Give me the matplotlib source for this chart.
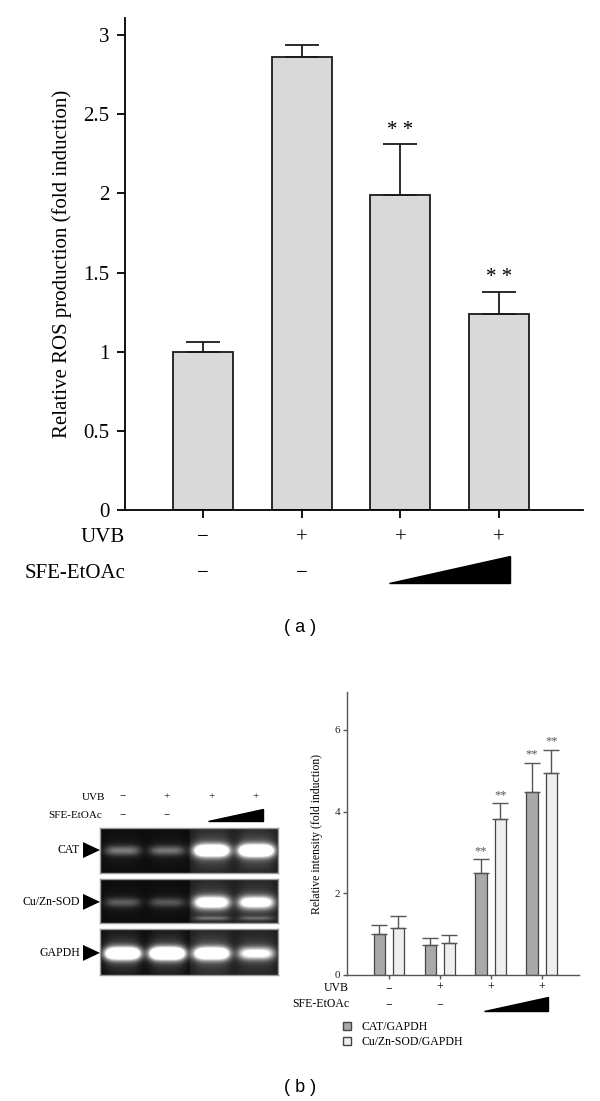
import numpy as np
import matplotlib
matplotlib.use("Agg")
import matplotlib.pyplot as plt
from matplotlib.patches import Polygon, Patch
from matplotlib.transforms import blended_transform_factory

plt.rcParams["font.family"] = ["Liberation Serif", "DejaVu Serif"]

# (a) ROS production
ros_mean = [1.00, 2.86, 1.99, 1.24]
ros_err = [0.06, 0.08, 0.32, 0.14]
ros_sig = ["", "", "* *", "* *"]
uvb_row = ["−", "+", "+", "+"]
sfe_row = ["−", "−", "", ""]   # last two: wedge (increasing dose)

# (b) RT-PCR densitometry
cat_mean = [1.01, 0.74, 2.50, 4.49]
cat_err = [0.21, 0.17, 0.33, 0.71]
sod_mean = [1.16, 0.79, 3.83, 4.95]
sod_err = [0.28, 0.20, 0.37, 0.57]
cat_sig = ["", "", "**", "**"]
sod_sig = ["", "", "**", "**"]
legend_labels = ["CAT/GAPDH", "Cu/Zn-SOD/GAPDH"]

# gel bands (relative brightness per lane)
gel_rows = ["CAT", "Cu/Zn-SOD", "GAPDH"]
gel_bands = [[0.38, 0.36, 1.5, 1.6],
             [0.28, 0.26, 1.2, 1.1],
             [1.7, 1.8, 1.5, 0.95]]
gel_lower = [[0, 0, 0, 0],
             [0, 0, 0.25, 0.22],
             [0, 0, 0, 0]]

W, H = 600, 1101


def fx(p):
    return p / W


def fy(p):
    return 1 - p / H


fig = plt.figure(figsize=(6, 11.01), dpi=100)

# ---------------- (a) ----------------
ax = fig.add_axes([fx(125), fy(510), 458 / W, 492 / H])
x = np.arange(len(ros_mean))
ax.bar(x, ros_mean, width=0.61, color="#d9d9d9", edgecolor="#1a1a1a", linewidth=1.3, zorder=2)
ax.errorbar(x, ros_mean, yerr=[np.zeros(len(x)), ros_err], fmt="none", ecolor="#1a1a1a",
            elinewidth=1.3, capthick=1.3, capsize=12, zorder=3)
for xi, m, e, s in zip(x, ros_mean, ros_err, ros_sig):
    if s:
        ax.text(xi, m + e + 0.03, s, ha="center", va="bottom", fontsize=15)
ax.set_xlim(-0.79, 3.85)
ax.set_ylim(0, 3.108)
yt = [0, 0.5, 1, 1.5, 2, 2.5, 3]
ax.set_yticks(yt)
ax.set_yticklabels([f"{v:g}" for v in yt])
ax.set_xticks(x)
ax.set_xticklabels([])
for sp in ["top", "right"]:
    ax.spines[sp].set_visible(False)
for sp in ["left", "bottom"]:
    ax.spines[sp].set_linewidth(1.3)
ax.tick_params(direction="out", length=6, width=1.3, labelsize=15, pad=5)
ax.set_ylabel("Relative ROS production (fold induction)", fontsize=15, labelpad=8)

tr = blended_transform_factory(ax.transData, fig.transFigure)
fig.text(fx(125), fy(538), "UVB", ha="right", va="center", fontsize=15)
fig.text(fx(125), fy(573), "SFE-EtOAc", ha="right", va="center", fontsize=15)
for xi, u, s in zip(x, uvb_row, sfe_row):
    ax.text(xi, fy(538), u, transform=tr, ha="center", va="center", fontsize=15)
    if s:
        ax.text(xi, fy(573), s, transform=tr, ha="center", va="center", fontsize=15)
ax.add_patch(Polygon([(x[2] - 0.12, fy(583)), (x[3] + 0.11, fy(583)), (x[3] + 0.11, fy(556))],
                     closed=True, transform=tr, facecolor="black", edgecolor="black", clip_on=False))
fig.text(0.5, fy(628), "( a )", ha="center", va="center", fontsize=13, family="Liberation Sans")

# ---------------- (b) gel ----------------
panels = [(828, 873, 0.49), (879, 923, 0.52), (929, 975, 0.52)]
gel_axes = []
for i, (top, bot, yc) in enumerate(panels):
    gax = fig.add_axes([fx(100), fy(bot), 178 / W, (bot - top) / H])
    nh, nw = bot - top, 178
    yy, xx = np.mgrid[0:nh, 0:nw]
    img = np.where(xx > nw * 0.5, 0.12, 0.05).astype(float)
    lane_c = (np.arange(4) + 0.5) * nw / 4
    for k in range(4):
        amp = gel_bands[i][k]
        hprof = np.exp(-((xx - lane_c[k]) / 18.0) ** 4)
        sy = 4.0 + 2.0 * min(amp, 1.0)
        img += amp * hprof * np.exp(-((yy - yc * nh) / sy) ** 2)
        img += 0.15 * amp * hprof * np.exp(-((yy - yc * nh) / (sy * 3)) ** 2)
        if gel_lower[i][k]:
            img += gel_lower[i][k] * hprof * np.exp(-((yy - 0.88 * nh) / 2.0) ** 2)
    gax.imshow(np.clip(img, 0, 1), cmap="gray", vmin=0, vmax=1, extent=(0, 4, 1, 0),
               aspect="auto", interpolation="bilinear")
    gax.set_xticks([])
    gax.set_yticks([])
    for sp in gax.spines.values():
        sp.set_color("#9a9a9a")
        sp.set_linewidth(1)
    yc_px = top + yc * (bot - top)
    fig.text(fx(80), fy(yc_px), gel_rows[i], ha="right", va="center", fontsize=8.5)
    fig.add_artist(Polygon([(fx(83), fy(yc_px - 8)), (fx(83), fy(yc_px + 8)), (fx(100), fy(yc_px))],
                           closed=True, transform=fig.transFigure, facecolor="black", edgecolor="none"))
    gel_axes.append(gax)

lanes = np.arange(4) + 0.5
tg = blended_transform_factory(gel_axes[0].transData, fig.transFigure)
fig.text(fx(105), fy(797), "UVB", ha="right", va="center", fontsize=8)
fig.text(fx(102), fy(816), "SFE-EtOAc", ha="right", va="center", fontsize=8)
for li, u, s in zip(lanes, uvb_row, sfe_row):
    fig.text(li, fy(797), u, transform=tg, ha="center", va="center", fontsize=8)
    if s:
        fig.text(li, fy(816), s, transform=tg, ha="center", va="center", fontsize=8)
fig.add_artist(Polygon([(lanes[2] - 0.07, fy(821)), (lanes[3] + 0.16, fy(821)), (lanes[3] + 0.16, fy(809))],
                       closed=True, transform=tg, facecolor="black", edgecolor="black"))

# ---------------- (b) bars ----------------
bx = fig.add_axes([fx(347), fy(975), 232 / W, 283 / H])
g = np.arange(len(cat_mean))
off, bw = 0.19, 0.22
gray = "#555555"
bx.bar(g - off, cat_mean, width=bw, color="#a9a9a9", edgecolor="#444444", linewidth=0.9, zorder=2)
bx.bar(g + off, sod_mean, width=bw, color="#efefef", edgecolor="#444444", linewidth=0.9, zorder=2)
bx.errorbar(g - off, cat_mean, yerr=[np.zeros(4), cat_err], fmt="none", ecolor=gray,
            elinewidth=1, capthick=1, capsize=6, zorder=3)
bx.errorbar(g + off, sod_mean, yerr=[np.zeros(4), sod_err], fmt="none", ecolor=gray,
            elinewidth=1, capthick=1, capsize=6, zorder=3)
for gi in g:
    if cat_sig[gi]:
        bx.text(gi - off, cat_mean[gi] + cat_err[gi] + 0.05, cat_sig[gi], ha="center", va="bottom",
                fontsize=9, color=gray)
    if sod_sig[gi]:
        bx.text(gi + off, sod_mean[gi] + sod_err[gi] + 0.05, sod_sig[gi], ha="center", va="bottom",
                fontsize=9, color=gray)
bx.set_xlim(-0.82, 3.73)
bx.set_ylim(0, 6.93)
bx.set_yticks([0, 2, 4, 6])
bx.set_xticks(g)
bx.set_xticklabels([])
for sp in ["top", "right"]:
    bx.spines[sp].set_visible(False)
for sp in ["left", "bottom"]:
    bx.spines[sp].set_color(gray)
    bx.spines[sp].set_linewidth(1)
bx.tick_params(direction="out", length=3, width=1, colors=gray, labelsize=8, labelcolor="#222222")
bx.tick_params(axis="y", pad=2)
bx.set_ylabel("Relative intensity (fold induction)", fontsize=8.5, labelpad=8)

tb = blended_transform_factory(bx.transData, fig.transFigure)
fig.text(fx(349), fy(988), "UVB", ha="right", va="center", fontsize=8.5)
fig.text(fx(349), fy(1004), "SFE-EtOAc", ha="right", va="center", fontsize=8.5)
for gi, u, s in zip(g, uvb_row, sfe_row):
    fig.text(gi, fy(988), u, transform=tb, ha="center", va="center", fontsize=8.5)
    if s:
        fig.text(gi, fy(1004), s, transform=tb, ha="center", va="center", fontsize=8.5)
fig.add_artist(Polygon([(g[2] - 0.14, fy(1011)), (g[3] + 0.12, fy(1011)), (g[3] + 0.12, fy(997))],
                       closed=True, transform=tb, facecolor="black", edgecolor="black"))

handles = [Patch(facecolor="#a9a9a9", edgecolor="#444444"), Patch(facecolor="#efefef", edgecolor="#444444")]
fig.legend(handles, legend_labels, loc="upper left", bbox_to_anchor=(fx(343), fy(1021)),
           frameon=False, fontsize=8.5, handlelength=0.7, handleheight=0.7, handletextpad=0.9,
           labelspacing=0.25, borderaxespad=0, borderpad=0)

fig.text(0.5, fy(1088), "( b )", ha="center", va="center", fontsize=13, family="Liberation Sans")

fig.savefig("out.png", dpi=100)
